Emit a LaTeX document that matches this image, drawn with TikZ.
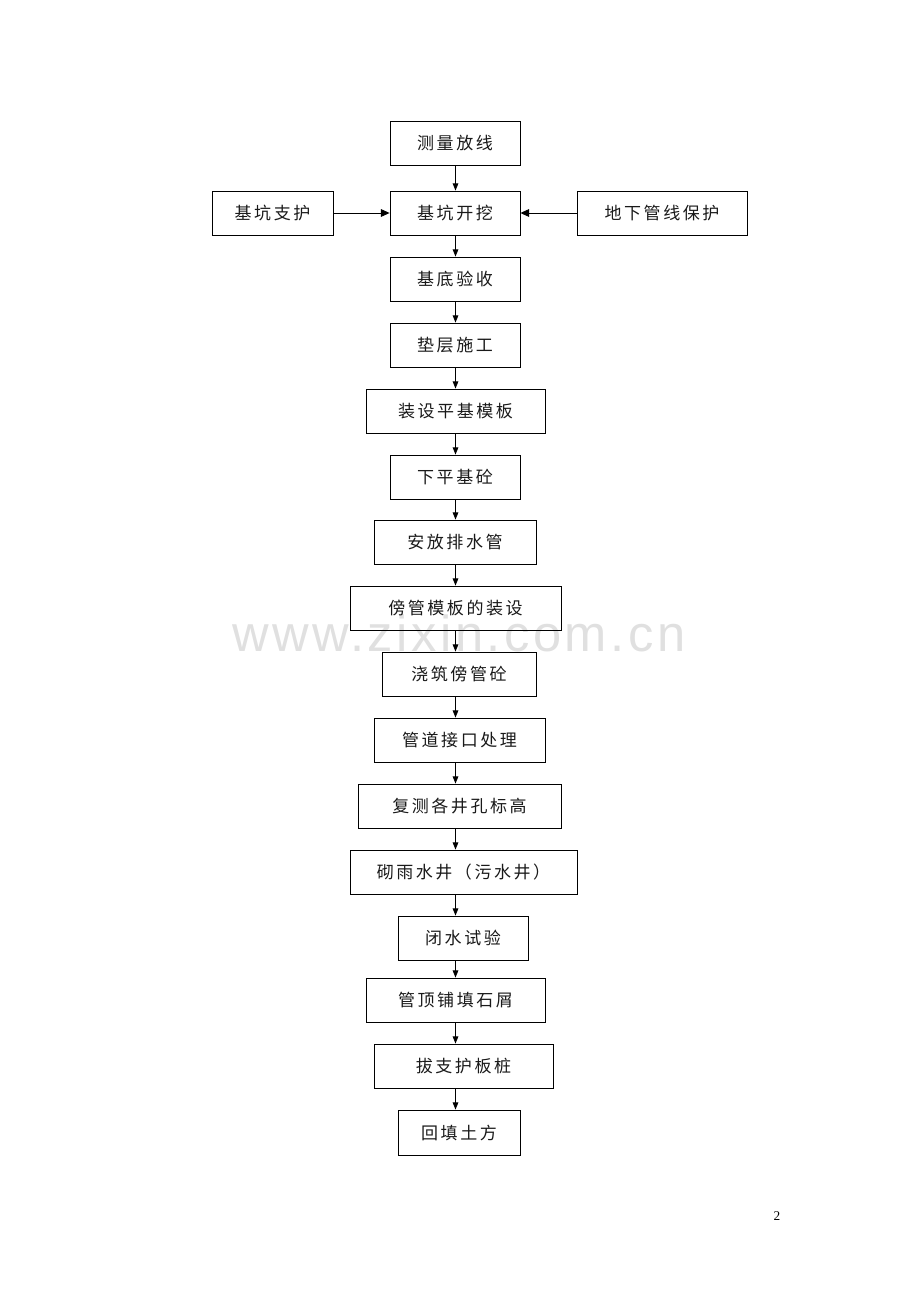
\documentclass[tikz,border=0pt]{standalone}
\usepackage{fontspec}
\setmainfont{Liberation Serif}
\newfontfamily\cjk[LetterSpace=15]{Noto Sans CJK SC}
\newfontfamily\wmfont[LetterSpace=7]{Liberation Sans}
\usetikzlibrary{arrows.meta}
\tikzset{
  box/.style={draw, line width=0.65pt, inner sep=0pt, minimum height=33pt, font=\cjk\fontsize{12.75pt}{15pt}\selectfont, text=black!90},
  varr/.style={line width=0.65pt, -{Triangle[length=5.4pt,width=4.2pt]}},
  harr/.style={line width=0.65pt, -{Triangle[length=6.5pt,width=5.8pt]}},
  wmark/.style={text=black!12, font=\wmfont\fontsize{38pt}{40pt}\selectfont, anchor=base, inner sep=0pt, text depth=0pt, text height=20pt},
  pgnum/.style={font=\fontsize{10pt}{12pt}\selectfont, inner sep=0pt}
}
\begin{document}
\begin{tikzpicture}[x=0.75pt,y=-0.75pt]
\useasboundingbox (0,0) rectangle (920,1302);
\node[wmark] (wm) at (459,651) {www.zixin.com.cn};
\coordinate (sp) at (455.5,0);
\node[box, minimum width=97.5pt]   (n1)  at (455,143)    {测量放线};
\node[box, minimum width=90.75pt]  (n2)  at (272.5,213)  {基坑支护};
\node[box, minimum width=97.5pt]   (n3)  at (455,213)    {基坑开挖};
\node[box, minimum width=127.5pt]  (n4)  at (662,213)    {地下管线保护};
\node[box, minimum width=97.5pt]   (n5)  at (455,279)    {基底验收};
\node[box, minimum width=97.5pt]   (n6)  at (455,345)    {垫层施工};
\node[box, minimum width=134.25pt] (n7)  at (455.5,411)  {装设平基模板};
\node[box, minimum width=97.5pt]   (n8)  at (455,477)    {下平基砼};
\node[box, minimum width=121.5pt]  (n9)  at (455,542)    {安放排水管};
\node[box, minimum width=158.25pt] (n10) at (455.5,608)  {傍管模板的装设};
\node[box, minimum width=115.5pt]  (n11) at (459,674)    {浇筑傍管砼};
\node[box, minimum width=128.25pt] (n12) at (459.5,740)  {管道接口处理};
\node[box, minimum width=152.25pt] (n13) at (459.5,806)  {复测各井孔标高};
\node[box, minimum width=170.25pt] (n14) at (463.5,872)  {砌雨水井（污水井）};
\node[box, minimum width=97.5pt]   (n15) at (463,938)    {闭水试验};
\node[box, minimum width=134.25pt] (n16) at (455.5,1000) {管顶铺填石屑};
\node[box, minimum width=134.25pt] (n17) at (463.5,1066) {拔支护板桩};
\node[box, minimum width=91.5pt, minimum height=33.75pt] (n18) at (459,1132.5) {回填土方};
\node[pgnum] (pg) at (777,1216) {2};
\draw[harr] (n2.east) -- (n3.west);
\draw[harr] (n4.west) -- (n3.east);
\foreach \a/\b in {n1/n3,n3/n5,n5/n6,n6/n7,n7/n8,n8/n9,n9/n10,n10/n11,n11/n12,n12/n13,n13/n14,n14/n15,n15/n16,n16/n17,n17/n18}
  \draw[varr] (\a.south -| sp) -- (\b.north -| sp);
\end{tikzpicture}
\end{document}
